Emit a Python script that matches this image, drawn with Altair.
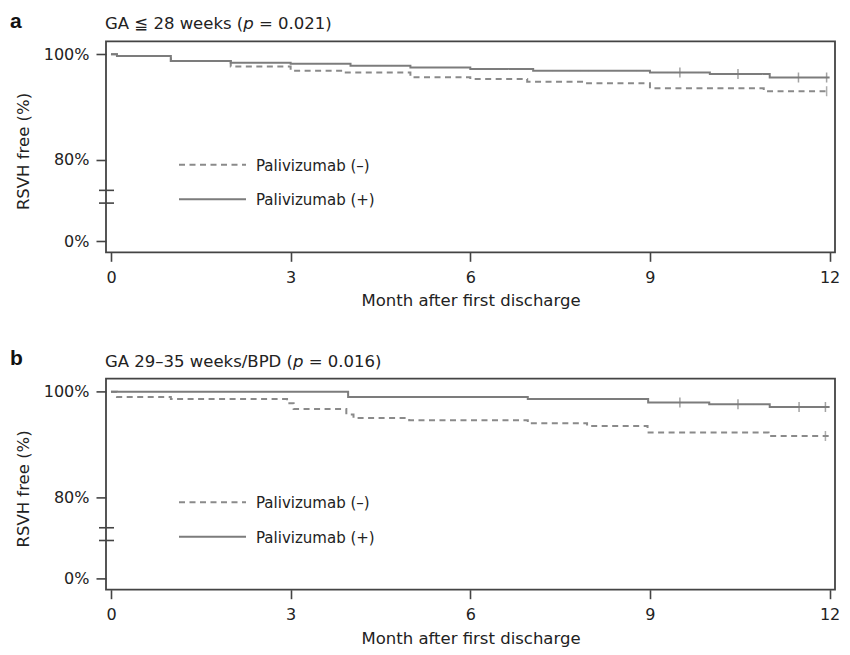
import altair as alt
import pandas as pd

groups = ["Palivizumab (–)", "Palivizumab (+)"]
x_ticks = [0, 3, 6, 9, 12]
y_ticks = [0, 80, 100]

# Panel a : GA <= 28 weeks
a_minus_month = [0, 0.1, 1.0, 2.0, 3.0, 3.9, 5.0, 6.0, 6.95, 7.95, 9.0, 10.9, 12.0]
a_minus_surv = [100, 99.7, 98.75, 97.7, 96.9, 96.55, 95.65, 95.3, 94.8, 94.5, 93.55, 93.0, 93.0]
a_plus_month = [0, 0.1, 1.0, 2.0, 3.0, 4.0, 5.0, 6.0, 7.05, 9.0, 10.0, 11.0, 12.0]
a_plus_surv = [100, 99.7, 98.75, 98.4, 98.2, 97.85, 97.5, 97.2, 96.9, 96.55, 96.25, 95.6, 95.6]
a_minus_cens_month = [11.95]
a_minus_cens_surv = [93.0]
a_plus_cens_month = [9.5, 10.47, 11.48, 11.95]
a_plus_cens_surv = [96.55, 96.25, 95.6, 95.6]

# Panel b : GA 29-35 weeks/BPD
b_minus_month = [0, 0.1, 1.0, 2.94, 3.05, 3.93, 4.05, 4.98, 6.96, 7.95, 8.96, 10.98, 12.0]
b_minus_surv = [100, 99.0, 98.6, 97.8, 96.7, 95.7, 95.0, 94.6, 94.0, 93.5, 92.25, 91.6, 91.6]
b_plus_month = [0, 3.96, 6.96, 8.97, 9.99, 11.0, 12.0]
b_plus_surv = [100, 99.0, 98.6, 97.95, 97.6, 97.1, 97.1]
b_minus_cens_month = [11.93]
b_minus_cens_surv = [91.6]
b_plus_cens_month = [9.5, 10.47, 11.49, 11.93]
b_plus_cens_surv = [97.95, 97.6, 97.1, 97.1]

W = 729          # plot width
FH = 211         # frame height
TOP = 33.3       # room above the frame (inside the plot area) for the panel heading
H = TOP + FH
FONT = "DejaVu Sans"
TXT = "#222222"
FRAME = "#444444"

xscale = alt.Scale(domain=[-0.083, 12.09], nice=False, zero=False)
yscale = alt.Scale(domain=[-10.8, 0, 80, 100, 102.45],
                   range=[TOP + FH, TOP + 200, TOP + 118.5, TOP + 13, TOP],
                   nice=False, zero=False)
dash_scale = alt.Scale(domain=groups, range=[[6, 4.5], [1, 0]])
color_scale = alt.Scale(domain=groups, range=["#8a8a8a", "#7c7c7c"])


def curves_df(mm, ms, pm, ps):
    rows = [{"month": m, "surv": s, "group": groups[0]} for m, s in zip(mm, ms)]
    rows += [{"month": m, "surv": s, "group": groups[1]} for m, s in zip(pm, ps)]
    return pd.DataFrame(rows)


def text_layer(t, x, y, size=16.5, **kw):
    return alt.Chart(pd.DataFrame({"t": [t]})).mark_text(
        align="left", baseline="alphabetic", fontSize=size, **kw).encode(
        text="t:N", x=alt.value(x), y=alt.value(y))


def panel(letter, t1, t3, w1, curves, censors):
    xenc = alt.X("month:Q", scale=xscale,
                 axis=alt.Axis(values=x_ticks, format="d", tickSize=9, labelPadding=8,
                               title="Month after first discharge", titlePadding=7.5))
    yenc = alt.Y("surv:Q", scale=yscale,
                 axis=alt.Axis(values=y_ticks, labelExpr="datum.value + '%'", tickSize=10,
                               labelPadding=7, title="RSVH free (%)", titlePadding=12,
                               titleY=TOP + 109.7))
    frame = alt.Chart(pd.DataFrame({"f": [1]})).mark_rect(
        fillOpacity=0, stroke=FRAME, strokeWidth=1.8).encode(
        x=alt.value(0), x2=alt.value(W), y=alt.value(TOP), y2=alt.value(TOP + FH))
    lines = alt.Chart(curves).mark_line(interpolate="step-after", strokeWidth=2).encode(
        x=xenc, y=yenc,
        strokeDash=alt.StrokeDash("group:N", scale=dash_scale, legend=None),
        color=alt.Color("group:N", scale=color_scale, legend=None),
        detail="group:N",
    )
    cens = alt.Chart(censors).mark_tick(orient="vertical", size=10, thickness=1.5).encode(
        x=alt.X("month:Q", scale=xscale),
        y=alt.Y("surv:Q", scale=yscale),
        color=alt.Color("group:N", scale=color_scale, legend=None),
    )
    brk = alt.Chart(pd.DataFrame({"v": [37.5, 50]})).mark_rule(
        color=FRAME, strokeWidth=1.6).encode(
        x=alt.value(-7), x2=alt.value(8), y=alt.Y("v:Q", scale=yscale))

    leg = pd.DataFrame({"group": groups})
    leg_layers = []
    for i, g in enumerate(groups):
        yy = TOP + 123.5 + 34.5 * i
        d = leg[leg.group == g]
        leg_layers.append(alt.Chart(d).mark_rule(strokeWidth=2).encode(
            x=alt.value(73), x2=alt.value(140), y=alt.value(yy),
            strokeDash=alt.StrokeDash("group:N", scale=dash_scale, legend=None),
            color=alt.Color("group:N", scale=color_scale, legend=None)))
        leg_layers.append(alt.Chart(d).mark_text(
            align="left", baseline="middle", font=FONT, fontSize=15, color=TXT).encode(
            text="group:N", x=alt.value(150), y=alt.value(yy + 1)))

    lab = text_layer(letter, -96, TOP - 13.8, size=21, font="Liberation Sans",
                     fontWeight="bold", color="#111111")
    p1 = text_layer(t1, -1, TOP - 12, font=FONT, color=TXT)
    p2 = text_layer("p", -1 + w1, TOP - 12, font=FONT, fontStyle="italic", color=TXT)
    p3 = text_layer(t3, -1 + w1 + 10.5 + 5.2, TOP - 12, font=FONT, color=TXT)

    return alt.layer(frame, lines, cens, brk, *leg_layers, lab, p1, p2, p3).properties(
        width=W, height=H)


pa = panel("a", "GA ≦ 28 weeks (", "= 0.021)", 138.3,
           curves_df(a_minus_month, a_minus_surv, a_plus_month, a_plus_surv),
           curves_df(a_minus_cens_month, a_minus_cens_surv, a_plus_cens_month, a_plus_cens_surv))
pb = panel("b", "GA 29–35 weeks/BPD (", "= 0.016)", 188.0,
           curves_df(b_minus_month, b_minus_surv, b_plus_month, b_plus_surv),
           curves_df(b_minus_cens_month, b_minus_cens_surv, b_plus_cens_month, b_plus_cens_surv))

chart = alt.vconcat(pa, pb, spacing=92.4, bounds="flush").properties(
    padding={"left": 2, "top": 0, "right": 0, "bottom": 0}
).configure_view(stroke=None).configure_axis(
    labelFont=FONT, labelFontSize=16, labelColor=TXT,
    titleFont=FONT, titleFontSize=16.5, titleFontWeight="normal", titleColor=TXT,
    tickColor=FRAME, tickWidth=1.6, domain=False, grid=False,
)

chart.save("out.html", embed_options={"renderer": "svg", "actions": False})
